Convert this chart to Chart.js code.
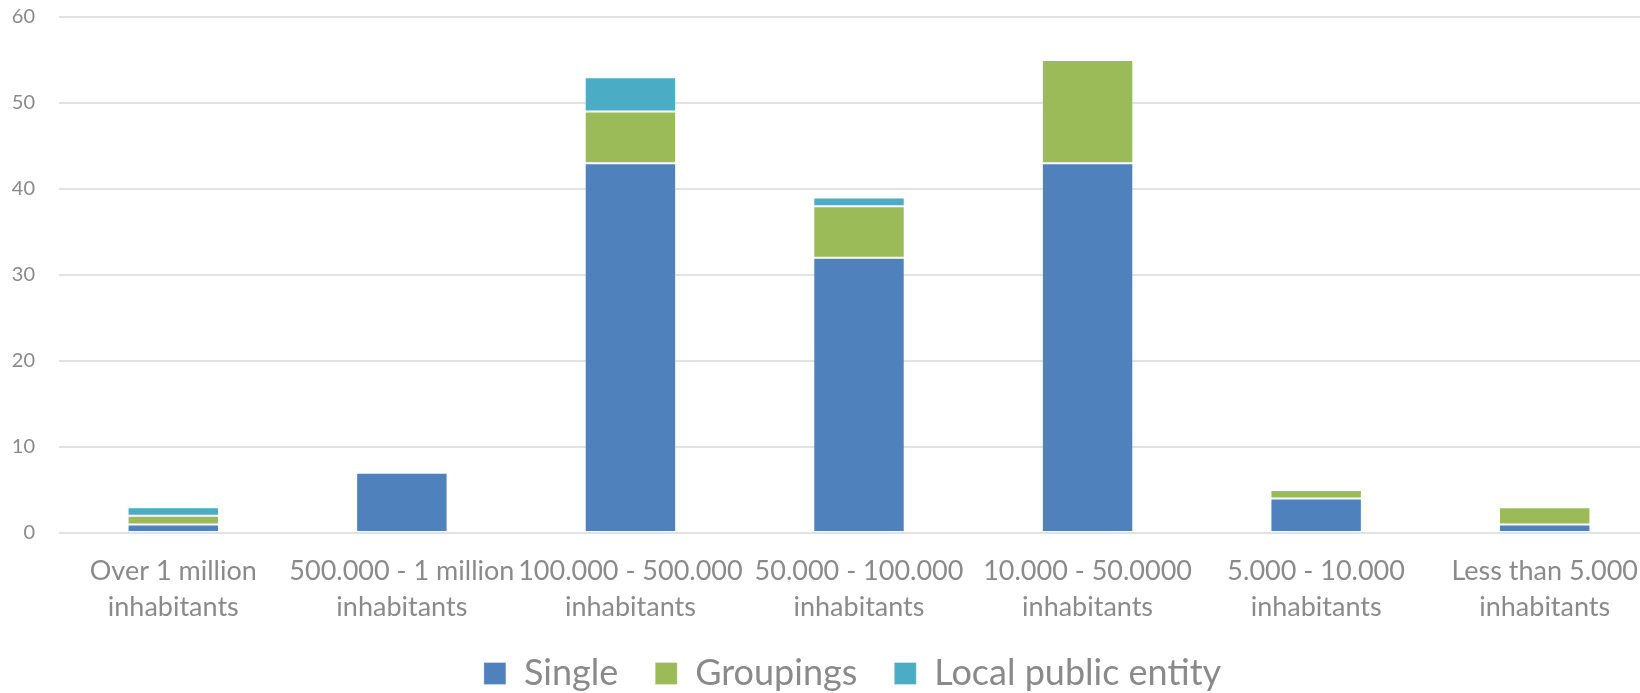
<!DOCTYPE html>
<html>
<head>
<meta charset="utf-8">
<script src="https://cdn.jsdelivr.net/npm/chart.js@4.4.1/dist/chart.umd.min.js"></script>
<style>
  html, body { margin: 0; padding: 0; background: #ffffff; overflow: hidden; }
  #wrap { position: relative; width: 1696px; height: 693px; }
</style>
</head>
<body>
<div id="wrap"><canvas id="c"></canvas></div>
<script>
const categories = [
  ["Over 1 million", "inhabitants"],
  ["500.000 - 1 million", "inhabitants"],
  ["100.000 - 500.000", "inhabitants"],
  ["50.000 - 100.000", "inhabitants"],
  ["10.000 - 50.0000", "inhabitants"],
  ["5.000 - 10.000", "inhabitants"],
  ["Less than 5.000", "inhabitants"]
];
const seriesNames = ["Single", "Groupings", "Local public entity"];
const single = [1, 7, 43, 32, 43, 4, 1];
const groupings = [1, 0, 6, 6, 12, 1, 2];
const localPublicEntity = [1, 0, 4, 1, 0, 0, 0];
const yTicks = [0, 10, 20, 30, 40, 50, 60];

const colors = ["#4F81BD", "#9BBB59", "#4BACC6"];
const textColor = "#8a8a8a";
const fontFamily = "Lato, 'Open Sans', sans-serif";

const data = {
  labels: categories,
  datasets: [single, groupings, localPublicEntity].map((vals, i) => ({
    label: seriesNames[i],
    data: vals,
    backgroundColor: colors[i],
    borderColor: "rgba(255,255,255,0.3)",
    borderWidth: 1,
    borderSkipped: false,
    categoryPercentage: 1.0,
    barPercentage: 0.4
  }))
};

const legendShift = {
  id: "legendShift",
  afterLayout(chart) {
    const lg = chart.legend;
    if (lg) { lg.left += 23; lg.right += 23; }
  }
};

new Chart(document.getElementById("c"), {
  type: "bar",
  data: data,
  plugins: [legendShift],
  options: {
    responsive: true,
    maintainAspectRatio: false,
    animation: false,
    layout: { padding: { top: 0, right: 37, bottom: -8.5, left: 0 } },
    plugins: {
      tooltip: { enabled: false },
      legend: {
        position: "bottom",
        labels: {
          color: textColor,
          font: { family: fontFamily, size: 36 },
          boxWidth: 22,
          boxHeight: 22,
          padding: 37
        }
      }
    },
    scales: {
      x: {
        stacked: true,
        afterFit: (s) => { s.height = 85.5; },
        grid: { display: false, drawTicks: false },
        border: { display: false },
        ticks: {
          color: textColor,
          font: { family: fontFamily, size: 27, lineHeight: 1.33 },
          padding: 20,
          maxRotation: 0,
          autoSkip: false
        }
      },
      y: {
        stacked: true,
        min: 0,
        max: 60,
        afterFit: (s) => { s.width = 59; s.paddingTop = 17; s.paddingBottom = 12; },
        afterBuildTicks: (s) => { s.ticks = yTicks.map(v => ({ value: v })); },
        grid: { color: "#e2e2e2", lineWidth: 2, drawTicks: false },
        border: { display: false },
        ticks: {
          color: textColor,
          font: { family: fontFamily, size: 20 },
          padding: 24
        }
      }
    }
  }
});
</script>
</body>
</html>
